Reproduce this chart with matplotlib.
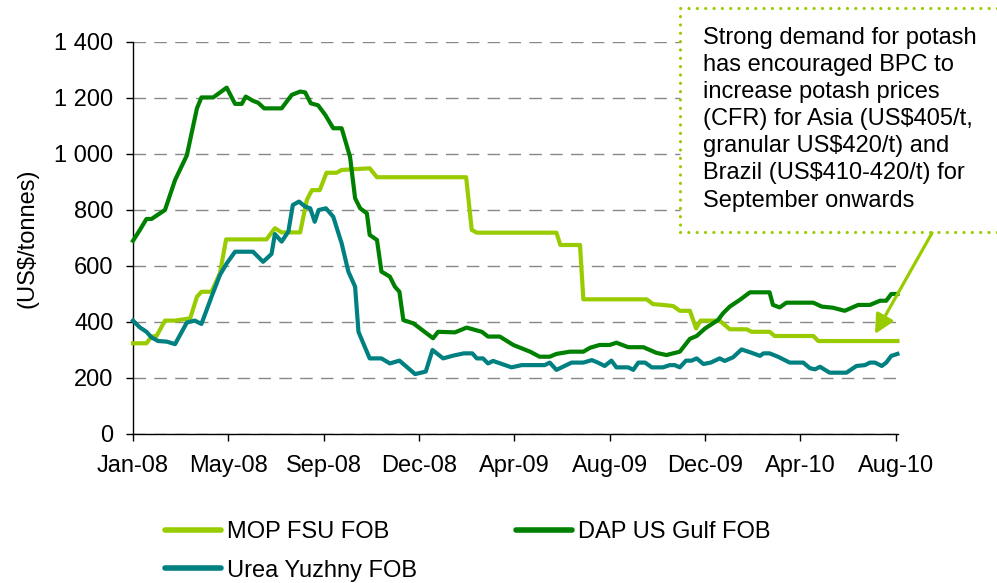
import matplotlib
matplotlib.use("Agg")
import matplotlib.pyplot as plt
from matplotlib.patches import Rectangle, FancyArrowPatch
from matplotlib.ticker import FuncFormatter, FixedLocator

plt.rcParams['font.family'] = ['Liberation Sans', 'DejaVu Sans']

# x positions are weeks since the first week of January 2008
tick_weeks = [0, 17, 34, 51, 68, 85, 102, 119, 136]
tick_labels = ["Jan-08", "May-08", "Sep-08", "Dec-08", "Apr-09", "Aug-09", "Dec-09", "Apr-10", "Aug-10"]

mop_weeks = [0, 2.4, 3.3, 4.2, 5.7, 7.5, 10.2, 11.4, 12.2, 14, 15.5, 16.6, 23.8, 25.3, 26.5, 29.8,
             31, 31.9, 33.3, 34.5, 36.3, 37.2, 42.2, 43.5, 59.4, 60.4, 61.3, 75.5, 76.2, 79.7, 80.3,
             91.6, 92.7, 94.5, 96.3, 97.5, 99.3, 100.4, 101.2, 104.6, 106.4, 109.4, 110.3, 113.5,
             114.4, 121.3, 122.2, 136.3]
mop_values = [324, 324, 348, 350, 405, 405, 413, 490, 508, 508, 574, 695, 695, 735, 720, 720,
              836, 871, 871, 933, 933, 943, 949, 917, 917, 729, 719, 719, 675, 675, 481,
              481, 464, 461, 457, 440, 440, 377, 405, 405, 374, 374, 365, 365,
              350, 350, 332, 332]

dap_weeks = [0, 1.2, 2.4, 3.3, 5.7, 7.5, 9.6, 11.4, 12.2, 14.3, 16.7, 18.2, 19.4, 20.1, 21.4, 22.3,
             23.4, 26.5, 28.3, 29.8, 30.7, 31.7, 33, 34.3, 35.7, 37.2, 38.7, 39.6, 40.5, 41.7, 42.2,
             43.5, 44.3, 45.8, 46.7, 47.5, 48.2, 50, 53.5, 54.4, 57.4, 59.5, 62.2, 63.3, 65.4, 67.8,
             70.8, 72.5, 74.3, 75.5, 77.9, 80.3, 81.5, 83.2, 85, 86.2, 88.3, 91, 93.3, 95.1, 97.5,
             99.3, 100.5, 102, 104.3, 105.2, 106.4, 108.2, 110, 113.5, 114.1, 115.3, 116.5, 121.3,
             122.8, 124.8, 126.9, 129.3, 131.4, 133.2, 134.3, 135.2, 136.3]
dap_values = [690, 728, 768, 768, 800, 907, 995, 1163, 1202, 1202, 1237, 1179, 1179, 1205, 1190, 1183,
              1163, 1163, 1211, 1223, 1220, 1181, 1174, 1139, 1092, 1092, 990, 842, 806, 788, 711,
              693, 580, 562, 526, 508, 407, 395, 342, 365, 363, 380, 365, 348, 348, 318,
              294, 276, 276, 286, 294, 294, 308, 318, 318, 326, 310, 310, 290, 282, 294,
              340, 350, 377, 407, 431, 455, 479, 506, 506, 461, 452, 469, 469,
              455, 451, 440, 461, 461, 476, 476, 500, 500]

urea_weeks = [0, 1.2, 2.4, 3.3, 4.5, 6, 7.5, 9.6, 11, 12.2, 14, 15.5, 16.7, 18.2, 21.4, 23.2, 24.7,
              25.3, 26.5, 27.7, 28.5, 29.6, 30.7, 31.6, 32.4, 33.1, 34.4, 35.7, 37.2, 38.4, 39.6,
              40.2, 42.2, 44.3, 45.8, 47.5, 50.3, 52.2, 53.4, 55.3, 57.1, 59, 60.5, 61.3, 62.4,
              63.3, 64.2, 67.5, 69.3, 73.4, 74.3, 75.5, 78.2, 80.3, 81.8, 82.9, 84.1, 85.3, 86.2,
              88.3, 89.2, 90.1, 91.3, 92.5, 94.5, 95.7, 96.6, 97.5, 98.6, 99.6, 100.5, 101.7, 103,
              104.6, 105.5, 107, 108.5, 110.3, 111.8, 112.4, 113.5, 115, 117.1, 119.5, 120.7,
              121.6, 122.5, 124.2, 127.2, 129, 130.5, 131.4, 132.3, 133.5, 134.3, 135.2, 136.3]
urea_values = [405, 381, 365, 345, 332, 330, 321, 398, 405, 393, 490, 568, 609, 651, 651, 615, 643,
               714, 687, 723, 818, 830, 812, 806, 758, 800, 806, 776, 681, 580, 526,
               365, 270, 270, 252, 262, 214, 223, 300, 270, 280, 288, 288, 270, 270,
               252, 261, 238, 246, 246, 255, 229, 255, 255, 264, 255, 243, 262, 238,
               238, 229, 255, 255, 238, 238, 246, 246, 238, 262, 262, 270, 250, 255,
               270, 261, 274, 302, 290, 279, 288, 288, 276, 255, 255, 235,
               231, 240, 219, 219, 243, 246, 255, 255, 243, 255, 279, 286]

series_names = ["MOP FSU FOB", "DAP US Gulf FOB", "Urea Yuzhny FOB"]
annotation_text = ("Strong demand for potash\nhas encouraged BPC to\nincrease potash prices\n"
                   "(CFR) for Asia (US$405/t,\ngranular US$420/t) and\nBrazil (US$410-420/t) for\n"
                   "September onwards")

W, H = 997, 583
FS = 17
c_mop, c_dap, c_urea = "#99CC00", "#008000", "#008080"

fig = plt.figure(figsize=(W / 100, H / 100), dpi=100)
ax = fig.add_axes([133 / W, (H - 434) / H, (898 - 133) / W, (434 - 42) / H])

l_mop, = ax.plot(mop_weeks, mop_values, color=c_mop, lw=3, solid_joinstyle='round', clip_on=False, zorder=3)
l_dap, = ax.plot(dap_weeks, dap_values, color=c_dap, lw=3, solid_joinstyle='round', clip_on=False, zorder=3)
l_urea, = ax.plot(urea_weeks, urea_values, color=c_urea, lw=3, solid_joinstyle='round', clip_on=False, zorder=3)

ax.set_xlim(0, 136.4)
ax.set_ylim(0, 1400)
ax.xaxis.set_major_locator(FixedLocator(tick_weeks))
ax.set_xticklabels(tick_labels)
ax.set_yticks(range(0, 1401, 200))
ax.yaxis.set_major_formatter(FuncFormatter(lambda v, p: f"{int(v):,}".replace(",", " ")))
ax.tick_params(axis='both', direction='out', length=5, width=1, color='black', labelsize=FS)
ax.tick_params(axis='y', pad=9)
ax.tick_params(axis='x', pad=10)
for s in ['top', 'right']:
    ax.spines[s].set_visible(False)
for s in ['left', 'bottom']:
    ax.spines[s].set_linewidth(1)
    ax.spines[s].set_color('black')
ax.set_axisbelow(True)
ax.yaxis.grid(True, linestyle=(0, (9, 6)), color='#888888', linewidth=1)

fig.text(28 / W, (H - 238) / H, "(US$/tonnes)", rotation=90, ha='center', va='center', fontsize=FS)

leg = fig.legend([l_mop, l_urea, l_dap], [series_names[0], series_names[2], series_names[1]],
                 ncol=2, loc='upper left', bbox_to_anchor=(165 / W, (H - 521) / H),
                 frameon=False, fontsize=FS, handlelength=2.37, handletextpad=0.25,
                 columnspacing=4.2, labelspacing=0.7, borderpad=0, borderaxespad=0)
for ln in leg.get_lines():
    ln.set_linewidth(4)
    ln.set_solid_capstyle('round')

box = Rectangle((680 / W, (H - 232) / H), (1010 - 680) / W, (232 - 8) / H,
                transform=fig.transFigure, facecolor='white', edgecolor=c_mop,
                linewidth=2.3, linestyle=(0, (0.01, 2.6)), capstyle='round', clip_on=False, zorder=5)
fig.add_artist(box)

fig.text(703 / W, (H - 27) / H, annotation_text, ha='left', va='top', fontsize=FS,
         linespacing=1.3, zorder=6)

arrow = FancyArrowPatch((932 / W, (H - 233) / H), (875 / W, (H - 334) / H),
                        transform=fig.transFigure, arrowstyle='-|>,head_length=1.15,head_width=0.58',
                        mutation_scale=10, color=c_mop, linewidth=2.3, shrinkA=0, shrinkB=0, zorder=6)
fig.add_artist(arrow)

fig.savefig("out.png", dpi=100)
